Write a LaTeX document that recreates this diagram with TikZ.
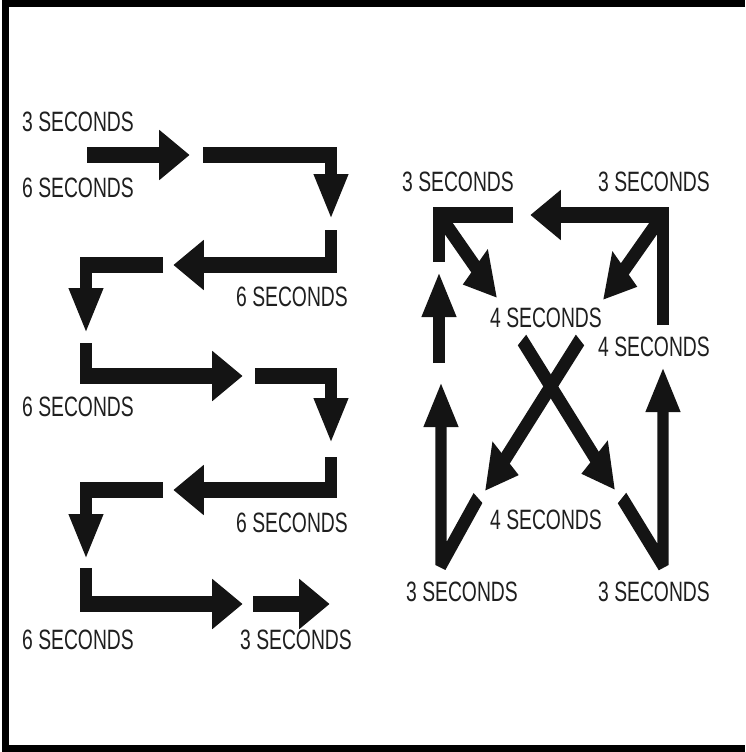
\documentclass[tikz,border=0pt]{standalone}
\usepackage{fontspec}
\newfontfamily\secfont{Liberation Sans}[FakeStretch=0.69]
\usetikzlibrary{arrows.meta}

\tikzset{
  secs/.style={font=\secfont\fontsize{28}{30}\selectfont, text=black!88, inner sep=0pt},
  flow/.style={line width=16pt, line join=miter, -{Triangle[length=44pt,width=47pt]}},
  bar/.style={line width=16pt, line join=miter},
}

\begin{document}
\begin{tikzpicture}[x=1pt,y=-1pt]
\useasboundingbox (0,0) rectangle (745,752);

% Frame
\draw[line width=7pt] (745,3.5) -- (5.5,3.5) -- (5.5,748) -- (745,748);

% Zig-zag course (left)
\begin{scope}[transform canvas={xscale=0.7}, x=1.428571pt, black!92]
    \draw[flow] (87,155) -- (190,155);
    \draw[flow] (203,155) -- (331,155) -- (331,218);
    \draw[flow] (331,230) -- (331,265) -- (173,265);
    \draw[flow] (163,265) -- (86,265) -- (86,332);
    \draw[flow] (86,343) -- (86,376) -- (243,376);
    \draw[flow] (255,376) -- (331,376) -- (331,442);
    \draw[flow] (331,457) -- (331,490) -- (173,490);
    \draw[flow] (163,490) -- (86,490) -- (86,558);
    \draw[flow] (86,568) -- (86,604) -- (243,604);
    \draw[flow] (253,604) -- (330,604);
\end{scope}

\node[secs] (zz3a) at (78,122) {3 SECONDS};
\node[secs] (zz6a) at (78,188) {6 SECONDS};
\node[secs] (zz6b) at (292,297) {6 SECONDS};
\node[secs] (zz6c) at (78,407) {6 SECONDS};
\node[secs] (zz6d) at (292,523) {6 SECONDS};
\node[secs] (zz6e) at (78,640) {6 SECONDS};
\node[secs] (zz3b) at (296,640) {3 SECONDS};

% Box with cross (right)
\begin{scope}[transform canvas={xscale=0.7}, x=1.428571pt, black!92]
    \draw[bar] (513,215) -- (439,215) -- (439,262);
    \draw[flow] (663,325) -- (663,215) -- (530,215);
    \draw[flow] (440,216) -- (497,298);
    \draw[flow] (662,216) -- (603,300);
    \draw[flow] (439,363) -- (439,273);
    \draw[flow, line join=bevel] (478,498) -- (441,565) -- (441,383);
    \draw[flow, line join=bevel] (622,498) -- (663,565) -- (663,368);
    \draw[flow] (522,340) -- (615,490);
    \draw[flow] (580,340) -- (485,491);
\end{scope}

\node[secs] (bx3a) at (458,182) {3 SECONDS};
\node[secs] (bx3b) at (654,182) {3 SECONDS};
\node[secs] (bx4a) at (546,318) {4 SECONDS};
\node[secs] (bx4b) at (654,347) {4 SECONDS};
\node[secs] (bx4c) at (546,520) {4 SECONDS};
\node[secs] (bx3c) at (462,592) {3 SECONDS};
\node[secs] (bx3d) at (654,592) {3 SECONDS};

\end{tikzpicture}
\end{document}
